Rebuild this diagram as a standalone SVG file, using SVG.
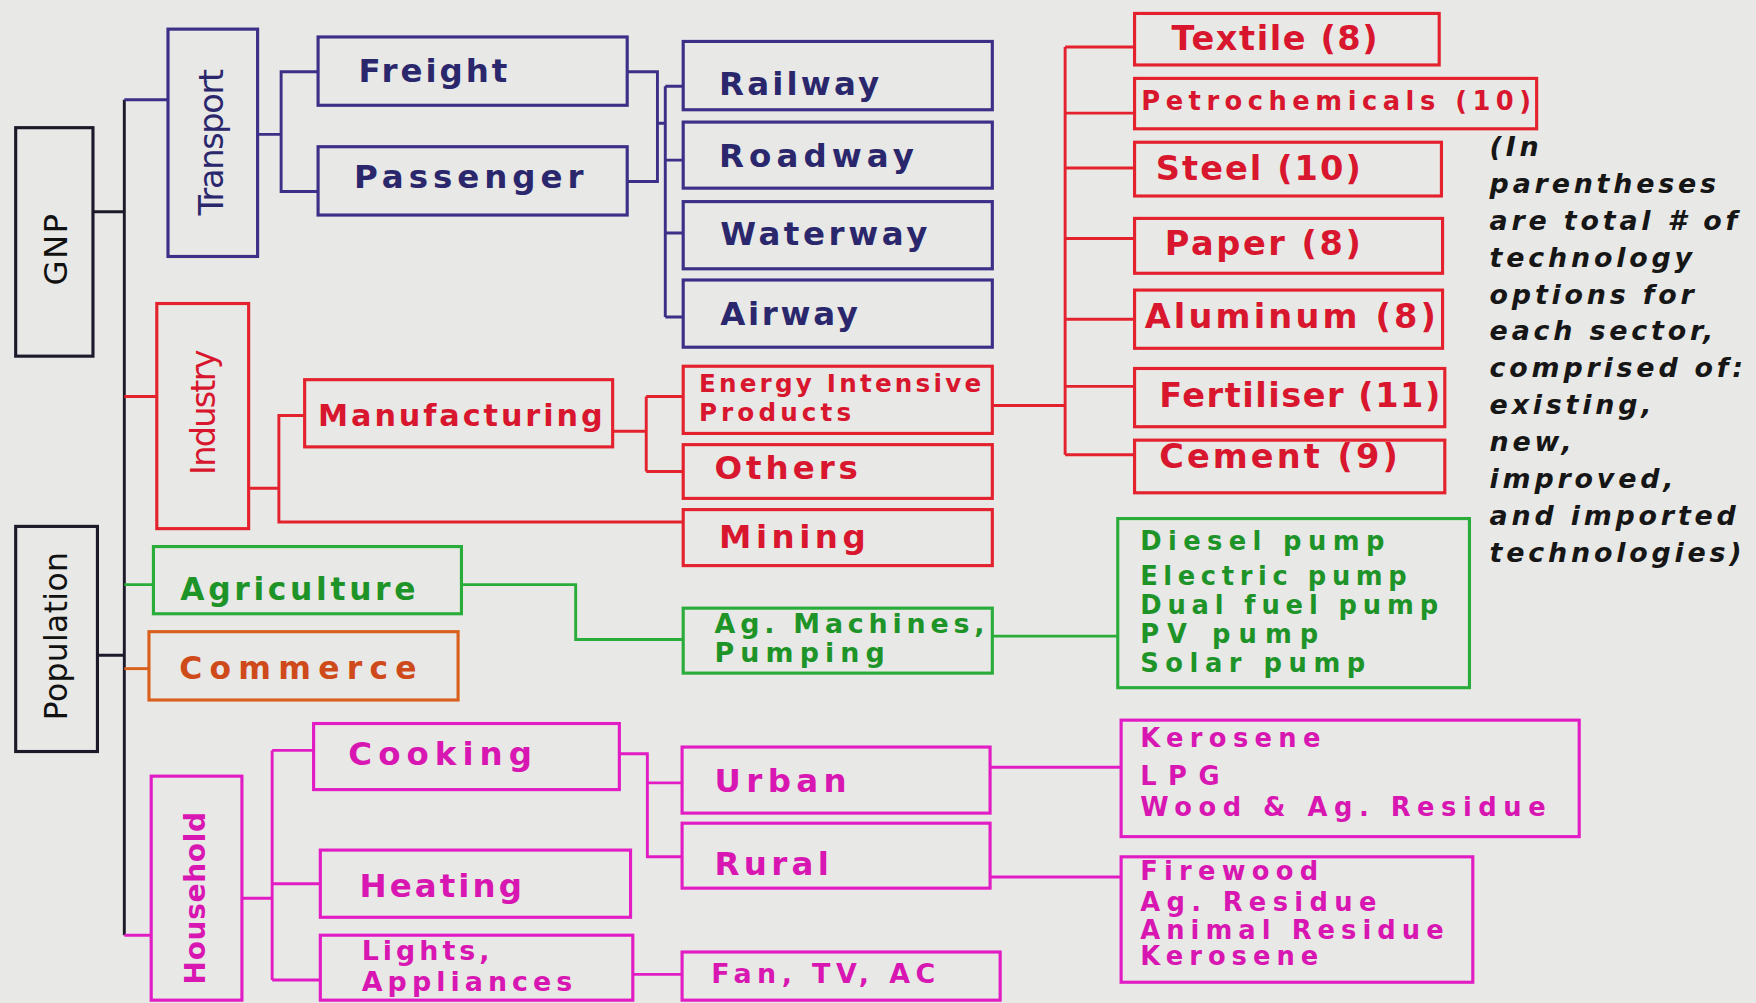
<svg xmlns="http://www.w3.org/2000/svg" width="1756" height="1003" viewBox="0 0 1756 1003">
<style>
.bx{fill:none;stroke-width:2.8}
.ln{fill:none;stroke-width:2.6}
text{font-family:"DejaVu Sans","Liberation Sans",Arial,sans-serif;font-weight:bold}
.rot{font-weight:normal}
.note{font-style:italic;font-size:24px;letter-spacing:3.4px;fill:#161616}
.k{stroke:#1c1a2a}.kt{fill:#111}
.nv{stroke:#3b2f88}.nvt{fill:#2b276c}
.rd{stroke:#e4222e}.rdt{fill:#d8162e}
.gr{stroke:#2aac3a}.grt{fill:#1e9428}
.or{stroke:#d9601c}.ort{fill:#cf4a1a}
.mg{stroke:#e21cc4}.mgt{fill:#d816b2}
</style>
<rect x="0" y="0" width="1756" height="1003" fill="#e8e8e6"/>
<g transform="scale(1.12)">
<g id="connectors">
<path class="ln k" d="M111,89 V835 M83,189 H111 M87,585 H111"/>
<path class="ln nv" d="M111,89 H150 M230,120 H251 M284,64 H251 V171 H284 M560,64 H587 V162 H560 M587,110 H594 M594,77 V283 M594,77 H610 M594,143 H610 M594,208 H610 M594,283 H610"/>
<path class="ln rd" d="M111,354 H140 M222,436 H249 M272,371 H249 V466 H610 M547,385 H577 M577,354 V421 M577,354 H610 M577,421 H610 M886,362 H951 M951,42 V406 M951,42 H1013 M951,101 H1013 M951,150 H1013 M951,213 H1013 M951,285 H1013 M951,345 H1013 M951,406 H1013"/>
<path class="ln gr" d="M111,522 H137 M412,522 H514 V571 H610 M886,568 H998"/>
<path class="ln or" d="M111,597 H133"/>
<path class="ln mg" d="M111,835 H135 M216,802 H243 M243,670 V875 M243,670 H280 M243,789 H286 M243,875 H286 M553,673 H578 V765 H609 M578,699 H609 M565,870 H609 M884,685 H1001 M884,783 H1001"/>
</g>
<g id="gnp"><rect class="bx k" x="14" y="114" width="69" height="204"/><text class="rot kt" transform="translate(60,223) rotate(-90)" font-size="29" text-anchor="middle" textLength="64" lengthAdjust="spacing">GNP</text></g>
<g id="population"><rect class="bx k" x="14" y="470" width="73" height="201"/><text class="rot kt" transform="translate(60,568) rotate(-90)" font-size="28" text-anchor="middle" textLength="150" lengthAdjust="spacing">Population</text></g>
<g id="transport"><rect class="bx nv" x="150" y="26" width="80" height="203"/><text class="rot nvt" transform="translate(199,127) rotate(-90)" font-size="30" text-anchor="middle" textLength="131" lengthAdjust="spacing">Transport</text></g>
<g id="industry"><rect class="bx rd" x="140" y="271" width="82" height="201"/><text class="rot rdt" transform="translate(192,368) rotate(-90)" font-size="30" text-anchor="middle" textLength="112" lengthAdjust="spacing">Industry</text></g>
<g id="agriculture"><rect class="bx gr" x="137" y="488" width="275" height="60"/><text class="grt" x="161" y="536" font-size="28" textLength="210" lengthAdjust="spacing">Agriculture</text></g>
<g id="commerce"><rect class="bx or" x="133" y="564" width="276" height="61"/><text class="ort" x="160" y="606" font-size="28" textLength="212" lengthAdjust="spacing">Commerce</text></g>
<g id="household"><rect class="bx mg" x="135" y="693" width="81" height="200"/><text class="mgt" transform="translate(183,802) rotate(-90)" font-size="25" text-anchor="middle" textLength="154" lengthAdjust="spacing">Household</text></g>
<g id="freight"><rect class="bx nv" x="284" y="33" width="276" height="61"/><text class="nvt" x="320" y="73" font-size="29" textLength="133" lengthAdjust="spacing">Freight</text></g>
<g id="passenger"><rect class="bx nv" x="284" y="131" width="276" height="61"/><text class="nvt" x="316" y="168" font-size="29" textLength="205" lengthAdjust="spacing">Passenger</text></g>
<g id="railway"><rect class="bx nv" x="610" y="37" width="276" height="61"/><text class="nvt" x="642" y="85" font-size="29" textLength="143" lengthAdjust="spacing">Railway</text></g>
<g id="roadway"><rect class="bx nv" x="610" y="109" width="276" height="59"/><text class="nvt" x="642" y="149" font-size="29" textLength="174" lengthAdjust="spacing">Roadway</text></g>
<g id="waterway"><rect class="bx nv" x="610" y="180" width="276" height="60"/><text class="nvt" x="643" y="219" font-size="29" textLength="185" lengthAdjust="spacing">Waterway</text></g>
<g id="airway"><rect class="bx nv" x="610" y="250" width="276" height="60"/><text class="nvt" x="643" y="290" font-size="29" textLength="123" lengthAdjust="spacing">Airway</text></g>
<g id="manufacturing"><rect class="bx rd" x="272" y="339" width="275" height="60"/><text class="rdt" x="284" y="380" font-size="27" textLength="254" lengthAdjust="spacing">Manufacturing</text></g>
<g id="energy-intensive"><rect class="bx rd" x="610" y="327" width="276" height="60"/><text class="rdt" x="624" y="350" font-size="22" textLength="252" lengthAdjust="spacing">Energy Intensive</text><text class="rdt" x="624" y="376" font-size="22" textLength="136" lengthAdjust="spacing">Products</text></g>
<g id="others"><rect class="bx rd" x="610" y="397" width="276" height="48"/><text class="rdt" x="638" y="428" font-size="29" textLength="128" lengthAdjust="spacing">Others</text></g>
<g id="mining"><rect class="bx rd" x="610" y="455" width="276" height="50"/><text class="rdt" x="642" y="489" font-size="29" textLength="131" lengthAdjust="spacing">Mining</text></g>
<g id="ag-machines"><rect class="bx gr" x="610" y="543" width="276" height="58"/><text class="grt" x="638" y="565" font-size="24" textLength="241" lengthAdjust="spacing">Ag. Machines,</text><text class="grt" x="638" y="591" font-size="24" textLength="152" lengthAdjust="spacing">Pumping</text></g>
<g id="pumps"><rect class="bx gr" x="998" y="463" width="314" height="151"/>
<text class="grt" x="1018" y="491" font-size="23" textLength="218" lengthAdjust="spacing">Diesel pump</text>
<text class="grt" x="1018" y="522" font-size="23" textLength="238" lengthAdjust="spacing">Electric pump</text>
<text class="grt" x="1018" y="548" font-size="23" textLength="266" lengthAdjust="spacing">Dual fuel pump</text>
<text class="grt" x="1018" y="574" font-size="23" textLength="159" lengthAdjust="spacing">PV pump</text>
<text class="grt" x="1018" y="600" font-size="23" textLength="201" lengthAdjust="spacing">Solar pump</text></g>
<g id="textile"><rect class="bx rd" x="1013" y="12" width="272" height="46"/><text class="rdt" x="1046" y="45" font-size="30" textLength="184" lengthAdjust="spacing">Textile (8)</text></g>
<g id="petrochemicals"><rect class="bx rd" x="1013" y="70" width="359" height="45"/><text class="rdt" x="1019" y="98" font-size="23" textLength="348" lengthAdjust="spacing">Petrochemicals (10)</text></g>
<g id="steel"><rect class="bx rd" x="1013" y="127" width="274" height="48"/><text class="rdt" x="1032" y="161" font-size="30" textLength="183" lengthAdjust="spacing">Steel (10)</text></g>
<g id="paper"><rect class="bx rd" x="1013" y="195" width="275" height="49"/><text class="rdt" x="1040" y="228" font-size="30" textLength="175" lengthAdjust="spacing">Paper (8)</text></g>
<g id="aluminum"><rect class="bx rd" x="1013" y="259" width="275" height="52"/><text class="rdt" x="1022" y="293" font-size="30" textLength="260" lengthAdjust="spacing">Aluminum (8)</text></g>
<g id="fertiliser"><rect class="bx rd" x="1013" y="329" width="277" height="52"/><text class="rdt" x="1035" y="363" font-size="30" textLength="251" lengthAdjust="spacing">Fertiliser (11)</text></g>
<g id="cement"><rect class="bx rd" x="1013" y="393" width="277" height="47"/><text class="rdt" x="1035" y="418" font-size="30" textLength="213" lengthAdjust="spacing">Cement (9)</text></g>
<g id="cooking"><rect class="bx mg" x="280" y="646" width="273" height="59"/><text class="mgt" x="311" y="683" font-size="29" textLength="164" lengthAdjust="spacing">Cooking</text></g>
<g id="heating"><rect class="bx mg" x="286" y="759" width="277" height="60"/><text class="mgt" x="321" y="801" font-size="29" textLength="145" lengthAdjust="spacing">Heating</text></g>
<g id="lights"><rect class="bx mg" x="286" y="835" width="279" height="58"/><text class="mgt" x="323" y="857" font-size="24" textLength="114" lengthAdjust="spacing">Lights,</text><text class="mgt" x="323" y="885" font-size="24" textLength="188" lengthAdjust="spacing">Appliances</text></g>
<g id="urban"><rect class="bx mg" x="609" y="667" width="275" height="59"/><text class="mgt" x="638" y="707" font-size="29" textLength="118" lengthAdjust="spacing">Urban</text></g>
<g id="rural"><rect class="bx mg" x="609" y="735" width="275" height="58"/><text class="mgt" x="638" y="781" font-size="29" textLength="102" lengthAdjust="spacing">Rural</text></g>
<g id="fan-tv-ac"><rect class="bx mg" x="609" y="850" width="284" height="43"/><text class="mgt" x="635" y="878" font-size="24" textLength="200" lengthAdjust="spacing">Fan, TV, AC</text></g>
<g id="urban-fuels"><rect class="bx mg" x="1001" y="643" width="409" height="104"/>
<text class="mgt" x="1018" y="667" font-size="23" textLength="161" lengthAdjust="spacing">Kerosene</text>
<text class="mgt" x="1018" y="701" font-size="23" textLength="71" lengthAdjust="spacing">LPG</text>
<text class="mgt" x="1018" y="729" font-size="23" textLength="362" lengthAdjust="spacing">Wood &amp; Ag. Residue</text></g>
<g id="rural-fuels"><rect class="bx mg" x="1001" y="765" width="314" height="112"/>
<text class="mgt" x="1018" y="786" font-size="23" textLength="159" lengthAdjust="spacing">Firewood</text>
<text class="mgt" x="1018" y="813" font-size="23" textLength="211" lengthAdjust="spacing">Ag. Residue</text>
<text class="mgt" x="1018" y="838" font-size="23" textLength="271" lengthAdjust="spacing">Animal Residue</text>
<text class="mgt" x="1018" y="862" font-size="23" textLength="159" lengthAdjust="spacing">Kerosene</text></g>
<g id="note">
<text class="note" x="1330" y="139">(In</text>
<text class="note" x="1330" y="172">parentheses</text>
<text class="note" x="1330" y="205">are total # of</text>
<text class="note" x="1330" y="238">technology</text>
<text class="note" x="1330" y="271">options for</text>
<text class="note" x="1330" y="304">each sector,</text>
<text class="note" x="1330" y="337">comprised of:</text>
<text class="note" x="1330" y="370">existing,</text>
<text class="note" x="1330" y="403">new,</text>
<text class="note" x="1330" y="436">improved,</text>
<text class="note" x="1330" y="469">and imported</text>
<text class="note" x="1330" y="502">technologies)</text>
</g>
</g>
</svg>
